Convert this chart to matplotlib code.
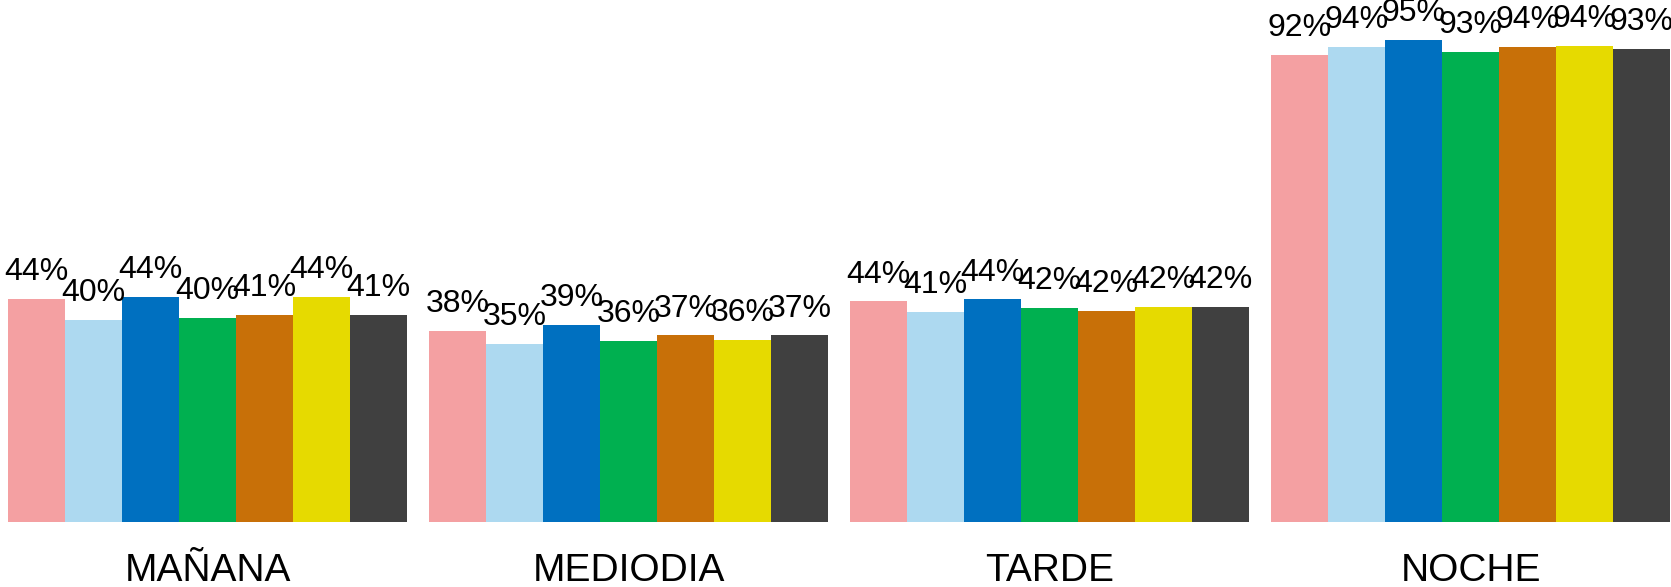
import numpy as np
import matplotlib
matplotlib.use("Agg")
import matplotlib.pyplot as plt
import matplotlib.transforms as mtransforms

# time slots and the seven series per slot
groups = ["MAÑANA", "MEDIODIA", "TARDE", "NOCHE"]
series_colors = ["#F4A0A2", "#ADD9F0", "#0070C0", "#00B050", "#C87008", "#E6DA00", "#404040"]

# bar heights (percent)
manana = [44.0, 39.9, 44.3, 40.3, 40.8, 44.3, 40.8]
mediodia = [37.6, 35.1, 38.9, 35.7, 36.8, 35.9, 36.8]
tarde = [43.5, 41.4, 43.9, 42.2, 41.6, 42.4, 42.4]
noche = [92.0, 93.7, 95.0, 92.6, 93.7, 93.9, 93.3]

# labels printed above the bars
lab_manana = ["44%", "40%", "44%", "40%", "41%", "44%", "41%"]
lab_mediodia = ["38%", "35%", "39%", "36%", "37%", "36%", "37%"]
lab_tarde = ["44%", "41%", "44%", "42%", "42%", "42%", "42%"]
lab_noche = ["92%", "94%", "95%", "93%", "94%", "94%", "93%"]

values = [manana, mediodia, tarde, noche]
labels = [lab_manana, lab_mediodia, lab_tarde, lab_noche]

W, H = 1671, 587
fig = plt.figure(figsize=(W / 100, H / 100), dpi=100)
ax = fig.add_axes([0, 65 / H, 1, 522 / H])

bw = 57 / 421
n = len(series_colors)
for g in range(len(groups)):
    for i in range(n):
        x = g + (i - (n - 1) / 2) * bw
        ax.bar(x, values[g][i], width=bw, color=series_colors[i], linewidth=0)
        ax.annotate(labels[g][i], (x, values[g][i]), xytext=(0, 13.5),
                    textcoords="offset points", ha="center", va="baseline",
                    fontsize=23, family=["Liberation Sans", "DejaVu Sans"],
                    annotation_clip=False)

trans = mtransforms.blended_transform_factory(ax.transData, fig.transFigure)
for g, name in enumerate(groups):
    ax.text(g, 6 / H, name, transform=trans, ha="center", va="baseline",
            fontsize=28, family=["Liberation Sans", "DejaVu Sans"])

left = 8 + 3.5 * 57
ax.set_xlim(-left / 421, (W - left) / 421)
ax.set_ylim(0, 95 * 522 / 482)
ax.axis("off")

fig.savefig("out.png", dpi=100)
